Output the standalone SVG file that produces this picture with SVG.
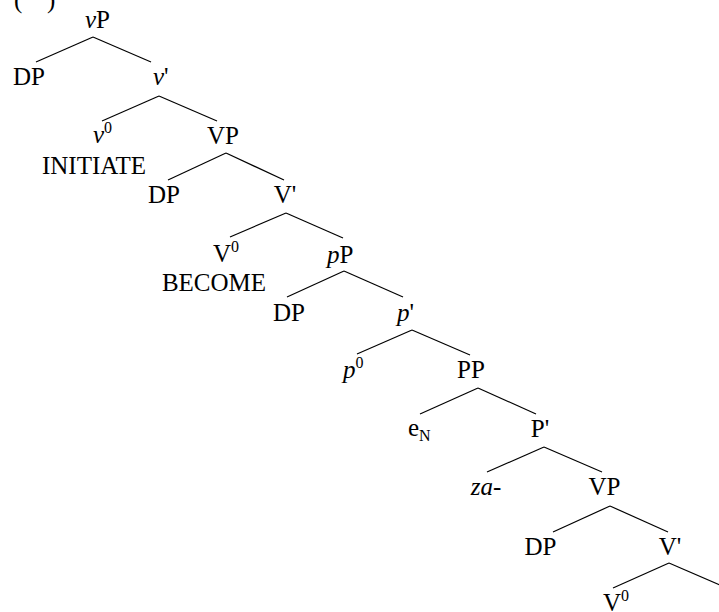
<svg xmlns="http://www.w3.org/2000/svg" width="719" height="612" viewBox="0 0 719 612">
  <style>
    text { font-family: "Liberation Serif", "Times New Roman", serif; font-size: 25px; fill: #000; }
    .it { font-style: italic; }
    .sup { font-size: 16px; }
    .sm { font-size: 16px; }
    .edges line { stroke: #000; stroke-width: 1.2; }
  </style>
  <rect width="719" height="612" fill="#fff"/>

  <!-- example number brackets (clipped at top edge) -->
  <g id="exnum">
    <text x="14" y="8">(</text>
    <text x="47" y="8">)</text>
  </g>

  <!-- branches -->
  <g class="edges" id="edges">
    <line x1="93" y1="37" x2="36" y2="62"/>
    <line x1="93" y1="37" x2="151" y2="62"/>
    <line x1="159" y1="96" x2="102" y2="121"/>
    <line x1="159" y1="96" x2="217" y2="121"/>
    <line x1="226" y1="153" x2="168" y2="180"/>
    <line x1="226" y1="153" x2="284" y2="180"/>
    <line x1="286" y1="213" x2="230" y2="237"/>
    <line x1="286" y1="213" x2="343" y2="238"/>
    <line x1="344" y1="271" x2="287" y2="297"/>
    <line x1="344" y1="271" x2="403" y2="297"/>
    <line x1="412" y1="330" x2="357" y2="354"/>
    <line x1="412" y1="330" x2="470" y2="355"/>
    <line x1="478" y1="388" x2="420" y2="414"/>
    <line x1="478" y1="388" x2="536" y2="414"/>
    <line x1="544" y1="447" x2="487" y2="472"/>
    <line x1="544" y1="447" x2="602" y2="472"/>
    <line x1="610" y1="506" x2="553" y2="532"/>
    <line x1="610" y1="506" x2="668" y2="532"/>
    <line x1="669" y1="563" x2="613" y2="588"/>
    <line x1="669" y1="563" x2="727" y2="588"/>
  </g>

  <!-- nodes -->
  <g id="vP"><text x="85" y="28"><tspan class="it">v</tspan>P</text></g>
  <g id="DP1"><text x="29" y="85" text-anchor="middle">DP</text></g>
  <g id="vbar"><text x="153" y="85"><tspan class="it">v</tspan>'</text></g>
  <g id="v0"><text x="93" y="143"><tspan class="it">v</tspan><tspan class="sup" dy="-10">0</tspan></text>
    <text x="94" y="174" text-anchor="middle">INITIATE</text></g>
  <g id="VP1"><text x="223" y="144" text-anchor="middle">VP</text></g>
  <g id="DP2"><text x="164" y="203" text-anchor="middle">DP</text></g>
  <g id="Vbar1"><text x="285" y="203" text-anchor="middle">V'</text></g>
  <g id="V0a"><text x="213" y="262">V<tspan class="sup" dy="-10">0</tspan></text>
    <text x="214" y="291" text-anchor="middle">BECOME</text></g>
  <g id="pP"><text x="327" y="263"><tspan class="it">p</tspan>P</text></g>
  <g id="DP3"><text x="289" y="321" text-anchor="middle">DP</text></g>
  <g id="pbar"><text x="397" y="321"><tspan class="it">p</tspan>'</text></g>
  <g id="p0"><text x="343" y="378"><tspan class="it">p</tspan><tspan class="sup" dy="-10">0</tspan></text></g>
  <g id="PP"><text x="471" y="378" text-anchor="middle">PP</text></g>
  <g id="eN"><text x="408" y="436">e<tspan class="sm" dy="5">N</tspan></text></g>
  <g id="Pbar"><text x="540" y="437" text-anchor="middle">P'</text></g>
  <g id="za"><text x="486" y="495" text-anchor="middle" class="it">za-</text></g>
  <g id="VP2"><text x="604.5" y="495" text-anchor="middle">VP</text></g>
  <g id="DP4"><text x="540.5" y="555" text-anchor="middle">DP</text></g>
  <g id="Vbar2"><text x="670" y="555" text-anchor="middle">V'</text></g>
  <g id="V0b"><text x="603" y="611">V<tspan class="sup" dy="-10">0</tspan></text></g>
</svg>
